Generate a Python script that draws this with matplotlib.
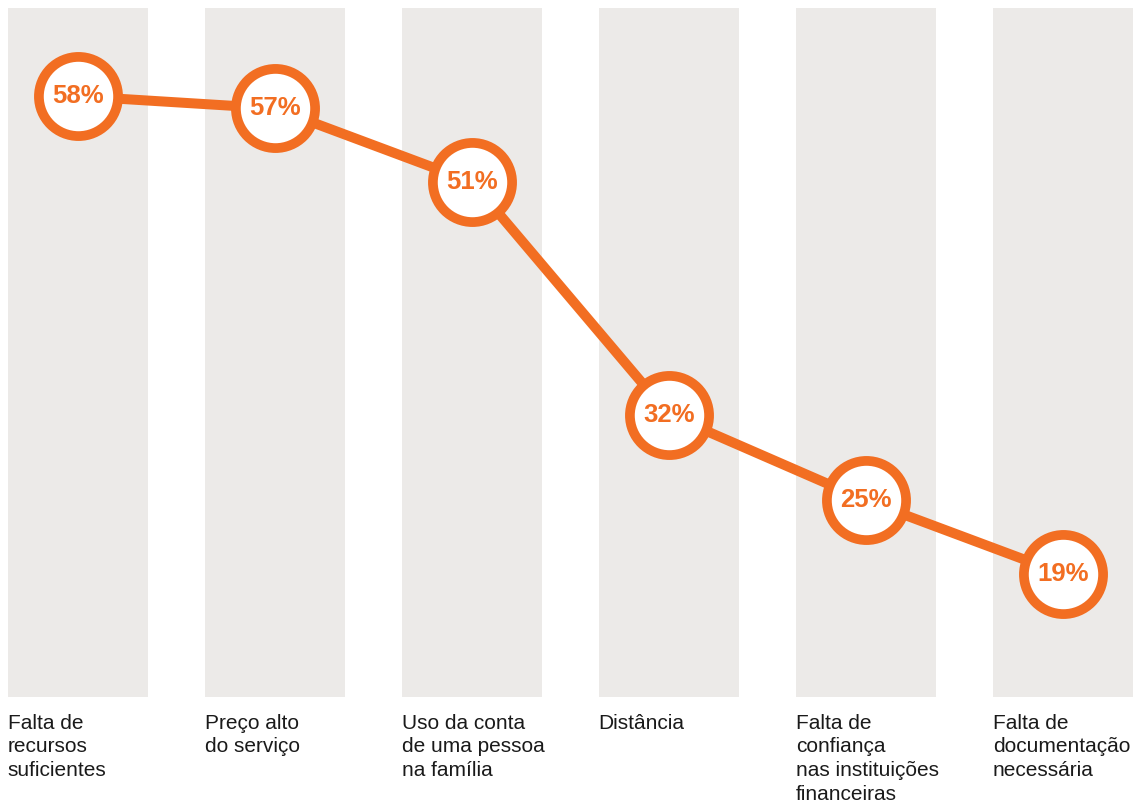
import matplotlib.pyplot as plt

# Dados
motivos = [
    "Falta de\nrecursos\nsuficientes",
    "Preço alto\ndo serviço",
    "Uso da conta\nde uma pessoa\nna família",
    "Distância",
    "Falta de\nconfiança\nnas instituições\nfinanceiras",
    "Falta de\ndocumentação\nnecessária",
]
percentuais = [58, 57, 51, 32, 25, 19]

laranja = "#F26E22"
cinza = "#ECEAE8"

plt.rcParams["font.family"] = ["Liberation Sans", "DejaVu Sans"]

fig = plt.figure(figsize=(11.33, 8.09), dpi=100)
ax = fig.add_axes([0, 1 - 697 / 809, 1, 689 / 809])

x = list(range(len(motivos)))
ymin, ymax = 8.96, 65.2
ax.set_xlim(-0.396, 5.355)
ax.set_ylim(ymin, ymax)

# Colunas cinzas de fundo
ax.bar(x, ymax - ymin, bottom=ymin, width=0.71, color=cinza, zorder=1)

# Linha e círculos
ax.plot(x, percentuais, color=laranja, linewidth=7.2, zorder=2,
        solid_capstyle="butt")
ax.plot(x, percentuais, linestyle="none", marker="o", markersize=57,
        markerfacecolor="white", markeredgecolor=laranja,
        markeredgewidth=7, zorder=3)

for xi, v in zip(x, percentuais):
    ax.text(xi, v, f"{v}%", ha="center", va="center", fontsize=18.5,
            fontweight="bold", color=laranja, zorder=4)

# Rótulos das categorias abaixo das colunas
trans = ax.get_xaxis_transform()
for xi, nome in zip(x, motivos):
    ax.text(xi - 0.357, -0.024, nome, transform=trans, ha="left", va="top",
            fontsize=15, color="#1a1a1a", linespacing=1.33)

ax.axis("off")

fig.savefig("out.png", dpi=100)
